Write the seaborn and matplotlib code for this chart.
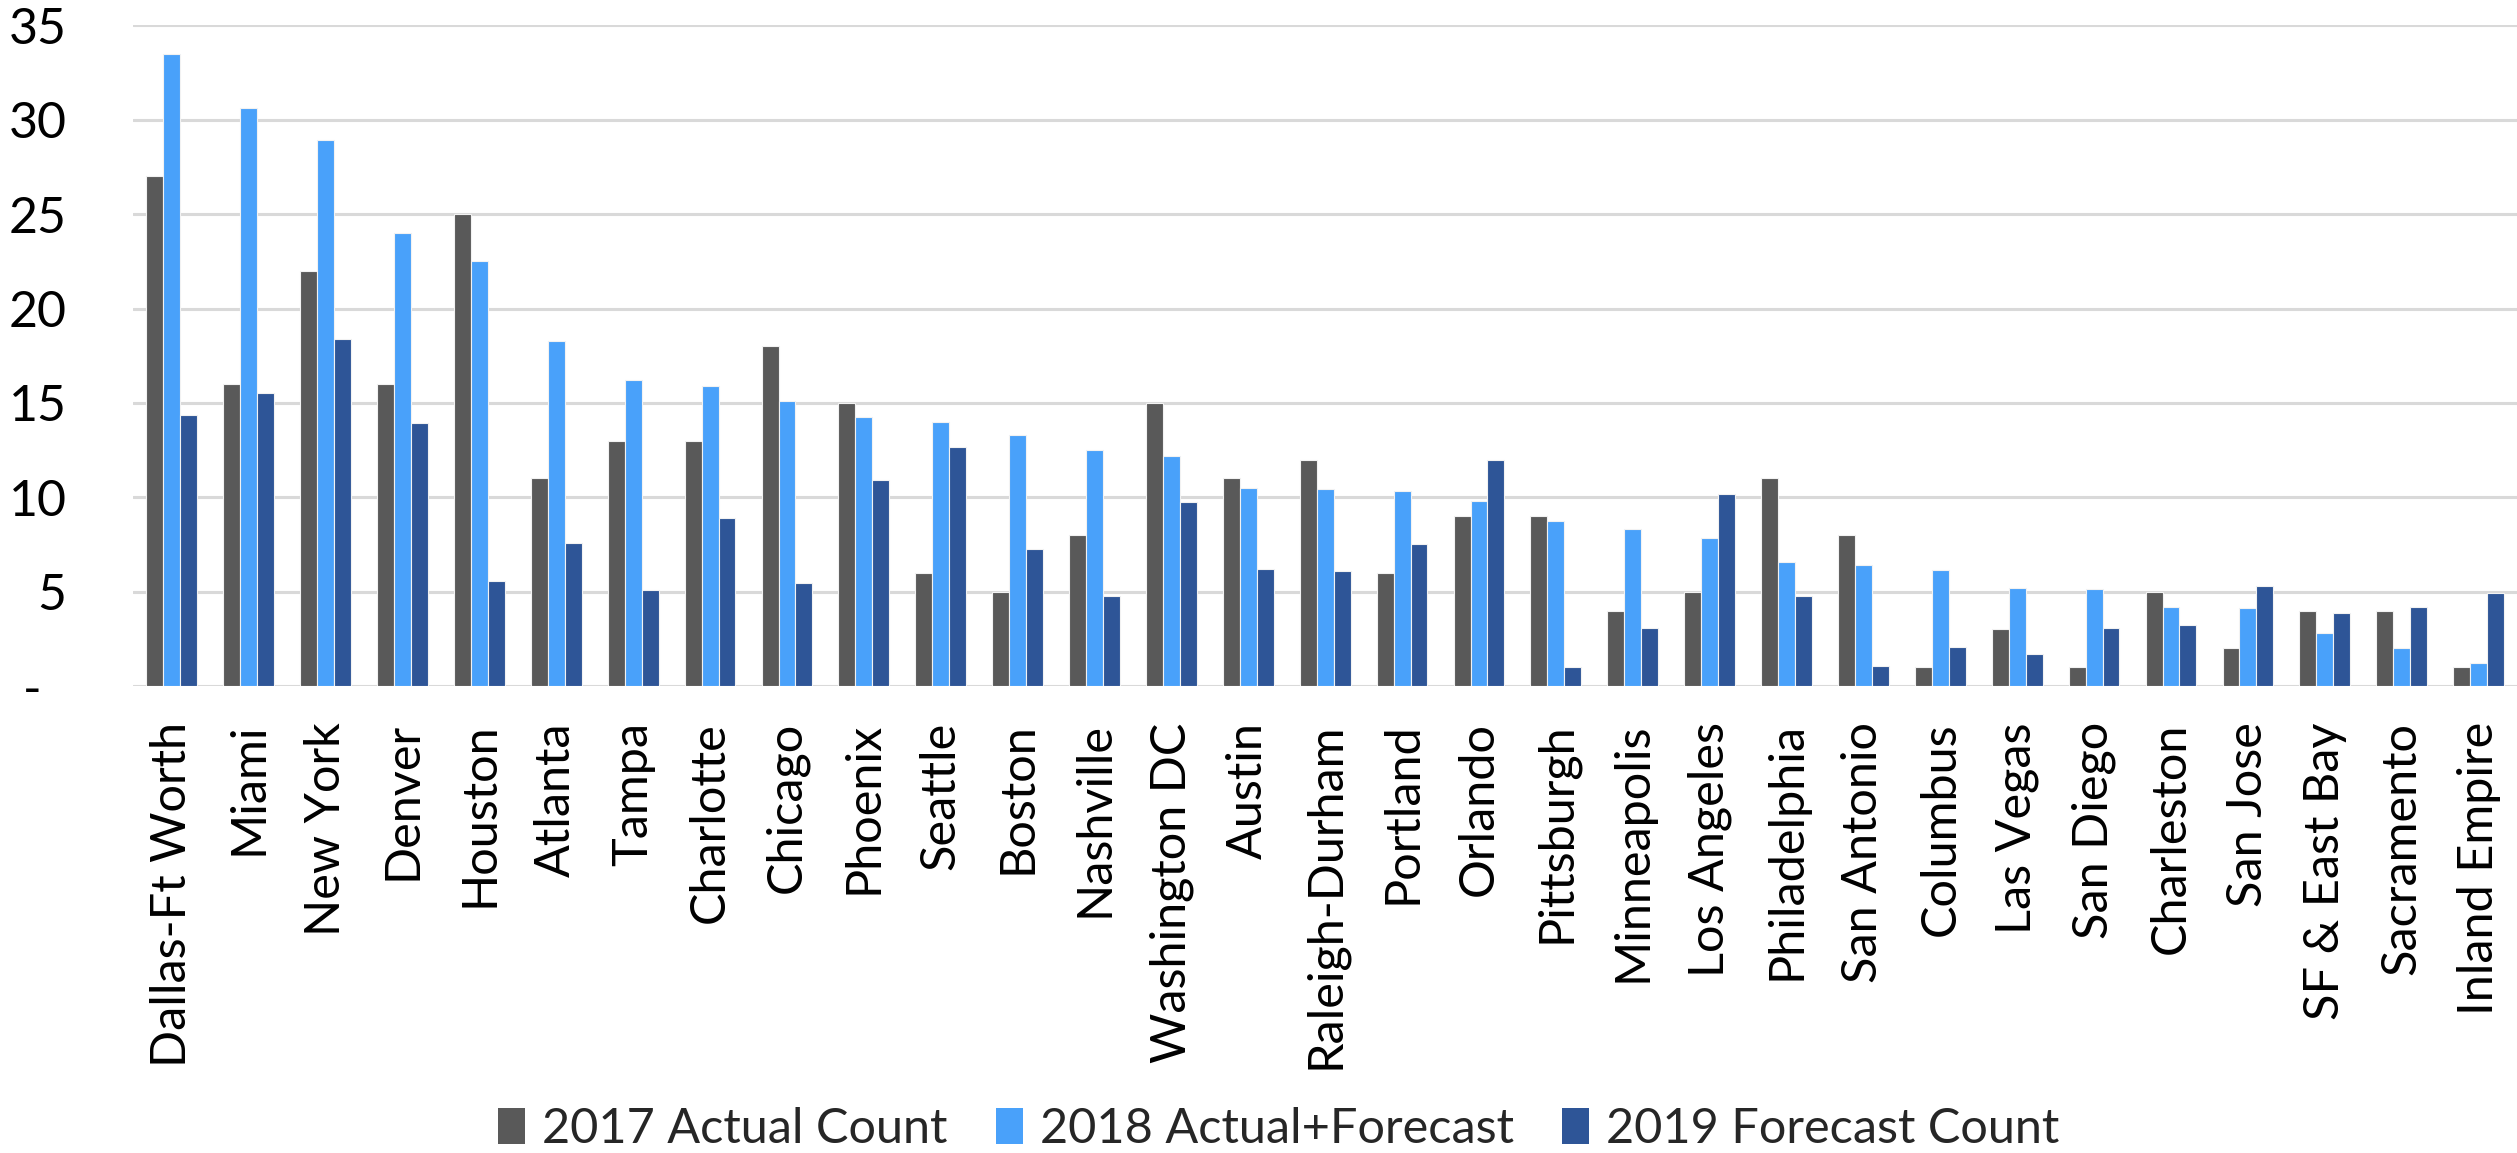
import matplotlib
matplotlib.use("Agg")
import matplotlib.pyplot as plt
import seaborn as sns
import pandas as pd

cities = [
    "Dallas-Ft Worth", "Miami", "New York", "Denver", "Houston", "Atlanta",
    "Tampa", "Charlotte", "Chicago", "Phoenix", "Seattle", "Boston",
    "Nashville", "Washington DC", "Austin", "Raleigh-Durham", "Portland",
    "Orlando", "Pittsburgh", "Minneapolis", "Los Angeles", "Philadelphia",
    "San Antonio", "Columbus", "Las Vegas", "San Diego", "Charleston",
    "San Jose", "SF & East Bay", "Sacramento", "Inland Empire",
]
count_2017 = [27, 16, 22, 16, 25, 11, 13, 13, 18, 15, 6, 5, 8, 15, 11, 12,
              6, 9, 9, 4, 5, 11, 8, 1, 3, 1, 5, 2, 4, 4, 1]
count_2018 = [33.5, 30.6, 28.95, 24.0, 22.5, 18.3, 16.2, 15.9, 15.1, 14.25,
              14.0, 13.3, 12.5, 12.2, 10.5, 10.46, 10.34, 9.82, 8.76, 8.33,
              7.85, 6.56, 6.42, 6.13, 5.21, 5.12, 4.17, 4.15, 2.82, 1.99, 1.2]
count_2019 = [14.37, 15.54, 18.37, 13.95, 5.59, 7.59, 5.1, 8.88, 5.48, 10.89,
              12.66, 7.24, 4.79, 9.75, 6.22, 6.1, 7.5, 11.95, 0.99, 3.1,
              10.16, 4.79, 1.08, 2.09, 1.7, 3.1, 3.21, 5.32, 3.87, 4.2, 4.91]
series_names = ["2017 Actual Count", "2018 Actual+Forecast", "2019 Forecast Count"]
series_colors = ["#595959", "#49A1FA", "#2E5597"]
y_ticks = [0, 5, 10, 15, 20, 25, 30, 35]
y_tick_labels = ["-  ", "5", "10", "15", "20", "25", "30", "35"]

df = pd.concat([
    pd.DataFrame({"city": cities, "count": vals, "series": name})
    for name, vals in zip(series_names, [count_2017, count_2018, count_2019])
], ignore_index=True)

sns.set_theme(style="white")
plt.rcParams["font.family"] = ["Lato", "DejaVu Sans"]

fig = plt.figure(figsize=(25.17, 11.53), dpi=100)
ax = fig.add_axes([0.053, 0.405, 0.947, 0.573])

sns.barplot(
    data=df, x="city", y="count", hue="series",
    palette=dict(zip(series_names, series_colors)),
    width=0.66, saturation=1, edgecolor="#f2f2f2", linewidth=0.8,
    errorbar=None, ax=ax,
)

ax.set_xlim(-0.5, 30.5)
ax.set_ylim(0, 35)
ax.set_yticks(y_ticks)
ax.set_yticklabels(y_tick_labels)
ax.set_xlabel("")
ax.set_ylabel("")
ax.grid(axis="y", color="#D9D9D9", linewidth=2.2)
ax.grid(axis="x", visible=False)
ax.set_axisbelow(True)
for s in ax.spines.values():
    s.set_visible(False)

ax.tick_params(axis="y", length=0, pad=48, labelsize=36, labelcolor="black")
ax.tick_params(axis="x", length=0, pad=26, labelsize=35, labelcolor="black",
               labelrotation=90)
for lbl in ax.get_yticklabels():
    lbl.set_horizontalalignment("right")

ax.legend_.remove()
handles = [plt.Rectangle((0, 0), 1, 1, facecolor=c, edgecolor="none")
           for c in series_colors]
fig.legend(handles, series_names, loc="center", bbox_to_anchor=(0.508, 0.021),
           ncol=3, frameon=False, fontsize=35, handlelength=0.55,
           handleheight=0.75, handletextpad=0.35, columnspacing=1.0,
           borderpad=0.0)

fig.savefig("out.png", dpi=100)
